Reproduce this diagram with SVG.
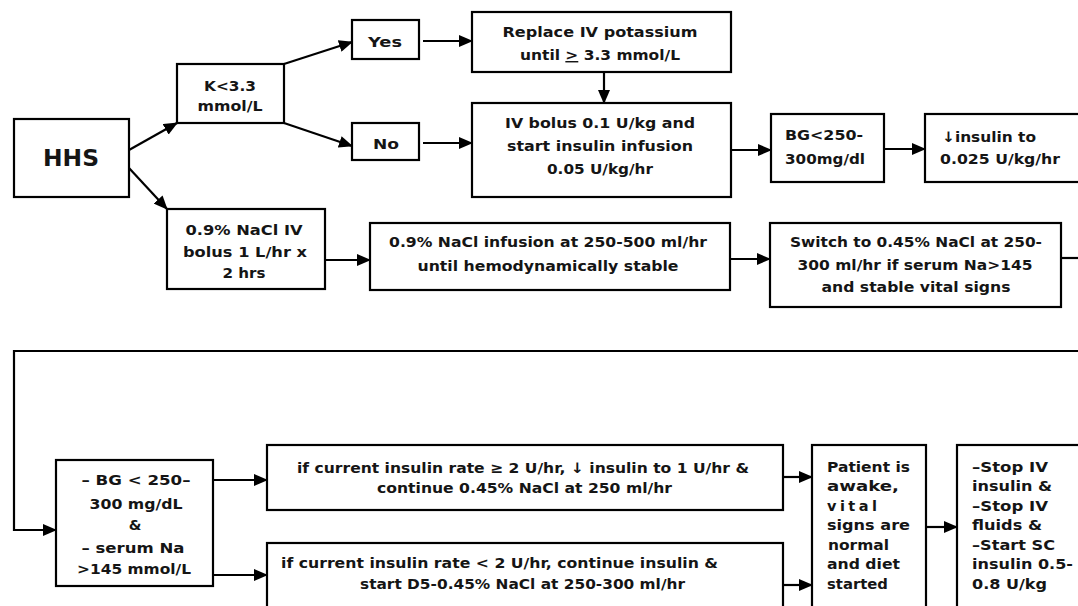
<svg xmlns="http://www.w3.org/2000/svg" width="1078" height="606" viewBox="0 0 1078 606">
<style>
.box{fill:#fff;stroke:#000;stroke-width:2.2}
.ln{fill:none;stroke:#000;stroke-width:2.2}
.ar{marker-end:url(#ah)}
text{font-family:"DejaVu Sans",Verdana,sans-serif;font-weight:bold;font-size:14.5px;fill:#151515}
.c{text-anchor:middle}
.big{font-size:23px}
</style>
<defs>
<marker id="ah" viewBox="0 0 14 12" refX="13" refY="6" markerWidth="14" markerHeight="12" markerUnits="userSpaceOnUse" orient="auto">
<path d="M0,0 L14,6 L0,12 z" fill="#000"/>
</marker>
</defs>
<rect width="1078" height="606" fill="#fff"/>
<g id="connectors">
<path class="ln ar" d="M129,150 L177,123"/>
<path class="ln ar" d="M129,168 L167,209"/>
<path class="ln ar" d="M284,64 L352,42"/>
<path class="ln ar" d="M284,123 L352,146"/>
<path class="ln ar" d="M423,41 L472,41"/>
<path class="ln ar" d="M423,143 L472,143"/>
<path class="ln ar" d="M604,72 L604,103"/>
<path class="ln ar" d="M731,150 L771,150"/>
<path class="ln ar" d="M884,149 L925,149"/>
<path class="ln ar" d="M325,260 L370,260"/>
<path class="ln ar" d="M730,259 L770,259"/>
<path class="ln" d="M1061,258 L1078,258"/>
<path class="ln ar" d="M1078,351 L14,351 L14,530 L56,530"/>
<path class="ln ar" d="M213,480 L267,480"/>
<path class="ln ar" d="M213,575 L267,575"/>
<path class="ln ar" d="M783,477 L812,477"/>
<path class="ln ar" d="M783,585 L812,585"/>
<path class="ln ar" d="M926,527 L957,527"/>
</g>
<g id="hhs">
<rect class="box" x="14" y="119" width="115" height="78"/>
<text class="c big" x="71" y="166" textLength="56" lengthAdjust="spacingAndGlyphs">HHS</text>
</g>
<g id="k">
<rect class="box" x="177" y="64" width="107" height="59"/>
<text class="c" x="230" y="91" textLength="52" lengthAdjust="spacingAndGlyphs">K&lt;3.3</text>
<text class="c" x="230" y="111" textLength="65" lengthAdjust="spacingAndGlyphs">mmol/L</text>
</g>
<g id="yes">
<rect class="box" x="352" y="20" width="67" height="39"/>
<text class="c" x="385" y="47" textLength="34" lengthAdjust="spacingAndGlyphs">Yes</text>
</g>
<g id="no">
<rect class="box" x="352" y="123" width="67" height="37"/>
<text class="c" x="386" y="149" textLength="26" lengthAdjust="spacingAndGlyphs">No</text>
</g>
<g id="replace">
<rect class="box" x="472" y="12" width="259" height="60"/>
<text class="c" x="600" y="37" textLength="195" lengthAdjust="spacingAndGlyphs">Replace IV potassium</text>
<text class="c" x="600" y="60" textLength="160" lengthAdjust="spacingAndGlyphs">until <tspan text-decoration="underline">&gt;</tspan> 3.3 mmol/L</text>
</g>
<g id="ivbolus">
<rect class="box" x="472" y="103" width="259" height="94"/>
<text class="c" x="600" y="128" textLength="190" lengthAdjust="spacingAndGlyphs">IV bolus 0.1 U/kg and</text>
<text class="c" x="600" y="151" textLength="186" lengthAdjust="spacingAndGlyphs">start insulin infusion</text>
<text class="c" x="600" y="174" textLength="106" lengthAdjust="spacingAndGlyphs">0.05 U/kg/hr</text>
</g>
<g id="bg1">
<rect class="box" x="771" y="114" width="113" height="68"/>
<text x="785" y="140" textLength="78" lengthAdjust="spacingAndGlyphs">BG&lt;250-</text>
<text x="785" y="164" textLength="80" lengthAdjust="spacingAndGlyphs">300mg/dl</text>
</g>
<g id="decr">
<rect class="box" x="925" y="114" width="200" height="68"/>
<text x="942" y="142" textLength="94" lengthAdjust="spacingAndGlyphs">↓insulin to</text>
<text x="940" y="164" textLength="120" lengthAdjust="spacingAndGlyphs">0.025 U/kg/hr</text>
</g>
<g id="nacl1">
<rect class="box" x="167" y="209" width="158" height="80"/>
<text class="c" x="244" y="235" textLength="117" lengthAdjust="spacingAndGlyphs">0.9% NaCl IV</text>
<text class="c" x="245" y="257" textLength="124" lengthAdjust="spacingAndGlyphs">bolus 1 L/hr x</text>
<text class="c" x="244" y="278" textLength="43" lengthAdjust="spacingAndGlyphs">2 hrs</text>
</g>
<g id="nacl2">
<rect class="box" x="370" y="223" width="360" height="67"/>
<text class="c" x="548" y="247" textLength="318" lengthAdjust="spacingAndGlyphs">0.9% NaCl infusion at 250-500 ml/hr</text>
<text class="c" x="548" y="271" textLength="261" lengthAdjust="spacingAndGlyphs">until hemodynamically stable</text>
</g>
<g id="switch">
<rect class="box" x="770" y="223" width="291" height="84"/>
<text class="c" x="916" y="247" textLength="252" lengthAdjust="spacingAndGlyphs">Switch to 0.45% NaCl at 250-</text>
<text class="c" x="915" y="270" textLength="235" lengthAdjust="spacingAndGlyphs">300 ml/hr if serum Na&gt;145</text>
<text class="c" x="916" y="292" textLength="189" lengthAdjust="spacingAndGlyphs">and stable vital signs</text>
</g>
<g id="bg2">
<rect class="box" x="56" y="460" width="157" height="126"/>
<text class="c" x="136" y="485" textLength="109" lengthAdjust="spacingAndGlyphs">– BG &lt; 250–</text>
<text class="c" x="136" y="509" textLength="93" lengthAdjust="spacingAndGlyphs">300 mg/dL</text>
<text class="c" x="135" y="530">&amp;</text>
<text class="c" x="133" y="553" textLength="103" lengthAdjust="spacingAndGlyphs">– serum Na</text>
<text class="c" x="134" y="574" textLength="114" lengthAdjust="spacingAndGlyphs">&gt;145 mmol/L</text>
</g>
<g id="rate-high">
<rect class="box" x="267" y="445" width="516" height="65"/>
<text x="297" y="473" textLength="452" lengthAdjust="spacingAndGlyphs">if current insulin rate ≥ 2 U/hr, ↓ insulin to 1 U/hr &amp;</text>
<text x="377" y="493" textLength="295" lengthAdjust="spacingAndGlyphs">continue 0.45% NaCl at 250 ml/hr</text>
</g>
<g id="rate-low">
<rect class="box" x="267" y="543" width="516" height="100"/>
<text x="281" y="568" textLength="437" lengthAdjust="spacingAndGlyphs">if current insulin rate &lt; 2 U/hr, continue insulin &amp;</text>
<text x="360" y="589" textLength="325" lengthAdjust="spacingAndGlyphs">start D5-0.45% NaCl at 250-300 ml/hr</text>
</g>
<g id="patient">
<rect class="box" x="812" y="445" width="114" height="200"/>
<text x="827" y="472" textLength="83" lengthAdjust="spacingAndGlyphs">Patient is</text>
<text x="827" y="491" textLength="72" lengthAdjust="spacingAndGlyphs">awake,</text>
<text x="827" y="511" textLength="50" lengthAdjust="spacing">vital</text>
<text x="827" y="530" textLength="83" lengthAdjust="spacingAndGlyphs">signs are</text>
<text x="828" y="550" textLength="61" lengthAdjust="spacingAndGlyphs">normal</text>
<text x="827" y="569" textLength="73" lengthAdjust="spacingAndGlyphs">and diet</text>
<text x="827" y="589" textLength="61" lengthAdjust="spacingAndGlyphs">started</text>
</g>
<g id="sc">
<rect class="box" x="957" y="445" width="200" height="200"/>
<text x="972" y="472" textLength="76" lengthAdjust="spacingAndGlyphs">–Stop IV</text>
<text x="972" y="491" textLength="80" lengthAdjust="spacingAndGlyphs">insulin &amp;</text>
<text x="972" y="511" textLength="76" lengthAdjust="spacingAndGlyphs">–Stop IV</text>
<text x="972" y="530" textLength="70" lengthAdjust="spacingAndGlyphs">fluids &amp;</text>
<text x="972" y="550" textLength="83" lengthAdjust="spacingAndGlyphs">–Start SC</text>
<text x="972" y="569" textLength="101" lengthAdjust="spacingAndGlyphs">insulin 0.5-</text>
<text x="972" y="589" textLength="75" lengthAdjust="spacingAndGlyphs">0.8 U/kg</text>
</g>
</svg>
